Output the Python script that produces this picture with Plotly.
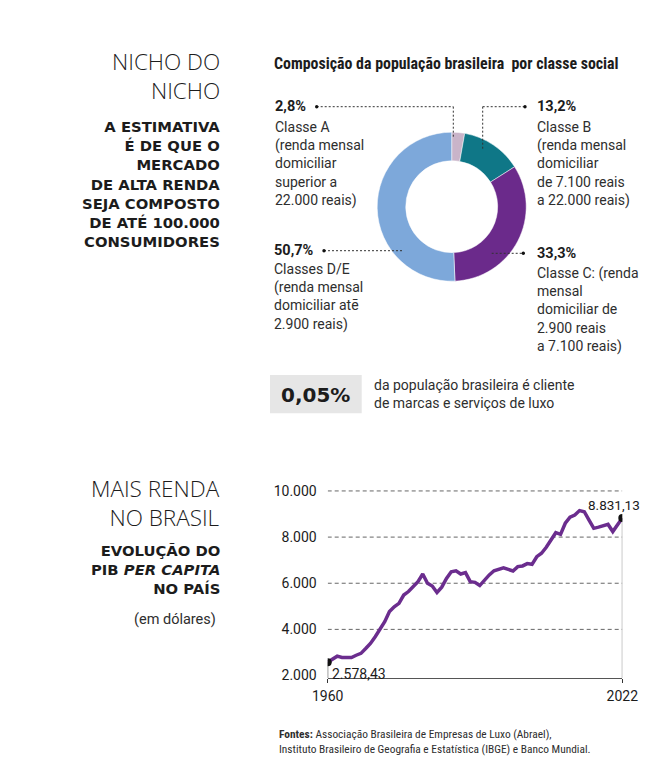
import plotly.graph_objects as go

W, H = 655, 757
OFF = 8  # page offset of the figure in the photographed window


def px(x):
    return (x - OFF) / W


def py(y):
    return 1 - (y - OFF) / H


# ---------------- data ----------------
classes = ["Classe A", "Classe B", "Classe C", "Classes D/E"]
shares = [2.8, 13.2, 33.3, 50.7]
slice_colors = ["#c9b4c9", "#0f7787", "#6b2a8b", "#7da8da"]

years = list(range(1960, 2023))
gdp = [2578.43, 2720, 2840, 2780, 2780, 2780, 2880, 2960, 3170, 3390,
       3680, 4000, 4330, 4770, 4980, 5130, 5490, 5640, 5850, 6070,
       6400, 6000, 5880, 5600, 5830, 6210, 6500, 6540, 6400, 6460,
       6070, 6040, 5900, 6140, 6360, 6540, 6600, 6670, 6600, 6530,
       6720, 6750, 6850, 6820, 7150, 7300, 7560, 7870, 8190, 8120,
       8600, 8860, 8960, 9150, 9100, 8740, 8380, 8430, 8510, 8550,
       8240, 8570, 8831.13]
ytick_vals = [2000, 4000, 6000, 8000, 10000]
ytick_text = ["2.000", "4.000", "6.000", "8.000", "10.000"]
xtick_vals = [1960, 2022]
xtick_text = ["1960", "2022"]
y_range = [1880, 10050]

NARROW = "Liberation Sans Narrow, Roboto Condensed, Roboto, sans-serif"
ROBO = "Roboto, sans-serif"
WIDE = "DejaVu Sans, Verdana, sans-serif"
LIGHT = "Open Sans, Roboto, sans-serif"
INK = "#1c1c1c"
BODYC = "#2e2e2e"


def br(v):
    s = f"{v:,.2f}"
    return s.replace(",", "X").replace(".", ",").replace("X", ".")


fig = go.Figure()

fig.add_trace(go.Pie(
    labels=classes, values=shares, sort=False, direction="clockwise",
    rotation=0, hole=0.617, textinfo="none", hoverinfo="label+percent",
    marker=dict(colors=slice_colors, line=dict(color="white", width=0.5)),
    domain=dict(x=[px(377.2), px(526.2)], y=[py(281.2), py(132.2)]),
    showlegend=False,
))

fig.add_trace(go.Scatter(
    x=years, y=gdp, mode="lines", line=dict(color="#6b2d8e", width=3.5),
    showlegend=False, xaxis="x", yaxis="y", hoverinfo="x+y",
))
fig.add_trace(go.Scatter(
    x=[years[0], years[0]], y=[gdp[0], y_range[0]], mode="lines",
    line=dict(color="#222", width=1), showlegend=False, hoverinfo="skip"))
fig.add_trace(go.Scatter(
    x=[years[-1], years[-1]], y=[gdp[-1], y_range[0]], mode="lines",
    line=dict(color="#888", width=1), showlegend=False, hoverinfo="skip"))
fig.add_trace(go.Scatter(
    x=[years[0], years[-1]], y=[gdp[0], gdp[-1]], mode="markers",
    marker=dict(color="#111", size=8), showlegend=False, hoverinfo="skip"))

annotations = []
shapes = []


def txt(x, y, text, size, family=ROBO, color=INK, xanchor="left",
        yanchor="middle", weight=None):
    font = dict(size=size, family=family, color=color)
    if weight is not None:
        font["weight"] = weight
    annotations.append(dict(
        x=px(x), y=py(y), xref="paper", yref="paper", text=text,
        showarrow=False, xanchor=xanchor, yanchor=yanchor, font=font,
        align=xanchor if xanchor in ("left", "right") else "center"))


# ----- left column -----
RX = 221.7
txt(RX, 76.1, "NICHO DO<br>NICHO", 22.5, LIGHT, INK, "right", weight=300)
bold_block = ["A ESTIMATIVA", "É DE QUE O", "MERCADO", "DE ALTA RENDA",
              "SEJA COMPOSTO", "DE ATÉ 100.000", "CONSUMIDORES"]
txt(RX, 183.9, "<br>".join("<b>" + s + "</b>" for s in bold_block), 14.8,
    WIDE, INK, "right")

txt(RX, 503.3, "MAIS RENDA<br>NO BRASIL", 22.5, LIGHT, INK, "right", weight=300)
txt(RX, 569.2, "<b>EVOLUÇÃO DO</b><br><b>PIB <i>PER CAPITA</i></b><br><b>NO PAÍS</b>",
    14.8, WIDE, INK, "right")
txt(218.3, 619, "(em dólares)", 14.5, ROBO, BODYC, "right")

# ----- donut texts -----
txt(271.7, 63.3, "<b>Composição da população brasileira  por classe social</b>",
    15.9, NARROW, INK)

label_a = ["Classe A", "(renda mensal", "domiciliar", "superior a", "22.000 reais)"]
label_b = ["Classe B", "(renda mensal", "domiciliar", "de 7.100 reais",
           "a 22.000 reais)"]
label_de = ["Classes D/E", "(renda mensal", "domiciliar atē", "2.900 reais)"]
label_c = ["Classe C: (renda", "mensal", "domiciliar de", "2.900 reais",
           "a 7.100 reais)"]

txt(273, 106.7, "<b>2,8%</b>", 14.5, ROBO, INK)
txt(273, 163.7, "<br>".join(label_a), 14, ROBO, BODYC)
txt(535, 106.7, "<b>13,2%</b>", 14.5, ROBO, INK)
txt(535, 163.7, "<br>".join(label_b), 14, ROBO, BODYC)
txt(271.7, 250.7, "<b>50,7%</b>", 14.5, ROBO, INK)
txt(271.7, 296.6, "<br>".join(label_de), 14, ROBO, BODYC)
txt(535, 253.3, "<b>33,3%</b>", 14.5, ROBO, INK)
txt(535, 309.7, "<br>".join(label_c), 14, ROBO, BODYC)


def seg(x0, y0, x1, y1):
    shapes.append(dict(type="line", xref="paper", yref="paper",
                       x0=px(x0), y0=py(y0), x1=px(x1), y1=py(y1),
                       line=dict(color="#333", width=1, dash="2px,2px")))


def dot(x, y, r=1.7):
    shapes.append(dict(type="circle", xref="paper", yref="paper",
                       x0=px(x - r), x1=px(x + r), y0=py(y + r), y1=py(y - r),
                       fillcolor="#111", line=dict(width=0)))


seg(316.7, 106.7, 453.3, 106.7); seg(453.3, 106.7, 453.3, 136.7); dot(316.7, 106.7)
seg(482.7, 106.7, 525, 106.7); seg(482.7, 106.7, 482.7, 150); dot(525, 106.7)
seg(324, 250.7, 403.3, 250.7); dot(324, 250.7)
seg(491.7, 253.3, 523.3, 253.3); dot(523.3, 253.3)

# highlight box
shapes.append(dict(type="rect", xref="paper", yref="paper",
                   x0=px(270), x1=px(361.7), y0=py(413.3), y1=py(375),
                   fillcolor="#e6e6e6", line=dict(width=0), layer="below"))
txt(315.5, 394.5, "<b>0,05%</b>", 20, WIDE, INK, "center")
txt(371.7, 394.2, "da população brasileira é cliente<br>de marcas e serviços de luxo",
    14, ROBO, BODYC)

# gridlines of the line chart
for v in ytick_vals[1:]:
    shapes.append(dict(type="line", xref="x", yref="y", x0=years[0],
                       x1=years[-1], y0=v, y1=v, layer="below",
                       line=dict(color="#666", width=1, dash="4px,3px")))

annotations.append(dict(x=years[0], y=gdp[0], xref="x", yref="y",
                        text=br(gdp[0]), showarrow=False, xanchor="left",
                        yanchor="top", xshift=2, yshift=-2,
                        font=dict(size=14, family=ROBO, color=INK)))
annotations.append(dict(x=years[-1], y=gdp[-1], xref="x", yref="y",
                        text=br(gdp[-1]), showarrow=False, xanchor="right",
                        yanchor="bottom", xshift=20, yshift=3,
                        font=dict(size=13.5, family=ROBO, color=INK)))

# footer
txt(277.3, 741.3,
    "<b>Fontes:</b> Associação Brasileira de Empresas de Luxo (Abrael),<br>"
    "Instituto Brasileiro de Geografia e Estatística (IBGE) e Banco Mundial.",
    11.4, NARROW, BODYC)

fig.update_layout(
    width=W, height=H, autosize=False,
    margin=dict(l=0, r=0, t=0, b=0, autoexpand=False),
    paper_bgcolor="white", plot_bgcolor="white",
    showlegend=False,
    xaxis=dict(domain=[px(327.7), px(622.3)], range=[1960, 2022],
               automargin=False,
               tickvals=xtick_vals, ticktext=xtick_text, showgrid=False,
               zeroline=False, showline=True, linecolor="#555", linewidth=1,
               ticks="outside", ticklen=4, tickcolor="#333",
               ticklabelstandoff=1,
               tickfont=dict(size=14, family=ROBO, color=INK)),
    yaxis=dict(domain=[py(678.3), py(489.8)], range=y_range,
               automargin=False,
               tickvals=ytick_vals, ticktext=ytick_text, showgrid=False,
               zeroline=False, showline=False, ticks="",
               ticklabelstandoff=10,
               tickfont=dict(size=14, family=ROBO, color=INK)),
    annotations=annotations, shapes=shapes,
)

fig.write_html("out.html")
